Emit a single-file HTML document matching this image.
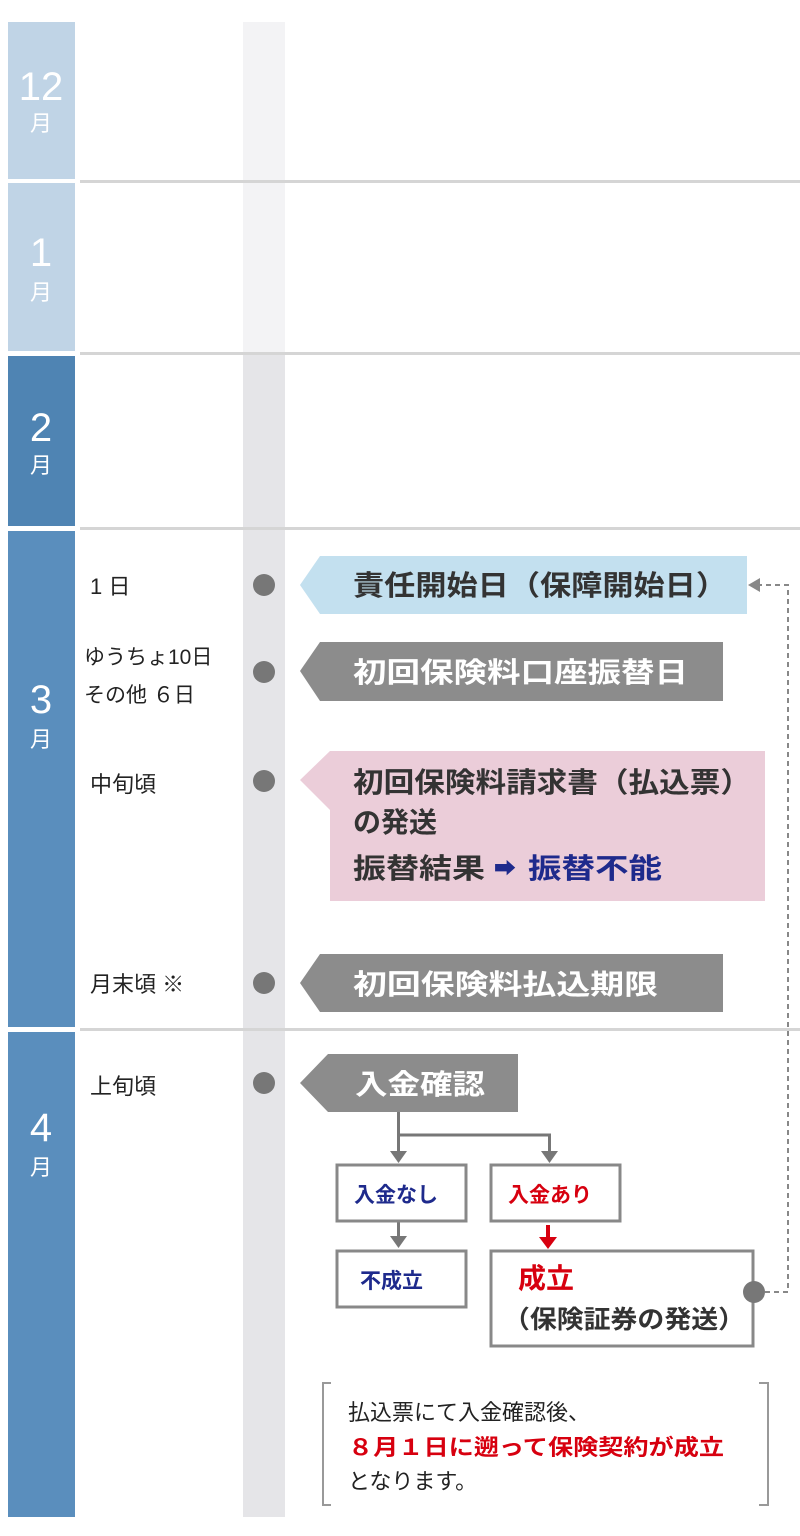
<!DOCTYPE html>
<html><head><meta charset="utf-8"><style>
html,body{margin:0;padding:0;background:#fff}
svg{display:block}
text{font-family:"Liberation Sans","Noto Sans CJK JP",sans-serif}
</style></head><body>
<svg width="800" height="1536" viewBox="0 0 800 1536" xmlns="http://www.w3.org/2000/svg">
<rect x="243" y="22" width="42" height="331" fill="#f3f3f5"/>
<rect x="243" y="353" width="42" height="1164" fill="#e5e5e8"/>
<rect x="8" y="22" width="67" height="157" fill="#c0d4e6"/>
<rect x="8" y="183" width="67" height="168" fill="#c0d4e6"/>
<rect x="8" y="356" width="67" height="170" fill="#4f84b3"/>
<rect x="8" y="531" width="67" height="496" fill="#5a8ebd"/>
<rect x="8" y="1032" width="67" height="485" fill="#5a8ebd"/>
<g fill="#d5d5d5">
<rect x="80" y="180" width="720" height="3"/>
<rect x="80" y="352" width="720" height="3"/>
<rect x="80" y="527" width="720" height="3"/>
<rect x="80" y="1028" width="720" height="3"/>
</g>
<g fill="#fff" text-anchor="middle">
<text x="41" y="100" font-size="40">12</text><text x="41" y="131" font-size="22">月</text>
<text x="41" y="266" font-size="40">1</text><text x="41" y="300" font-size="22">月</text>
<text x="41" y="441" font-size="40">2</text><text x="41" y="473" font-size="22">月</text>
<text x="41" y="713" font-size="40">3</text><text x="41" y="747" font-size="22">月</text>
<text x="41" y="1141" font-size="40">4</text><text x="41" y="1175" font-size="22">月</text>
</g>
<g fill="#222" font-size="22">
<text x="90" y="594">1 日</text>
<text x="84" y="664" font-size="21">ゆうちょ10日</text>
<text x="84" y="702" font-size="21">その他 ６日</text>
<text x="90" y="792">中旬頃</text>
<text x="90" y="992">月末頃 ※</text>
<text x="90" y="1094">上旬頃</text>
</g>
<g fill="#777">
<circle cx="264" cy="585" r="11"/>
<circle cx="264" cy="672" r="11"/>
<circle cx="264" cy="781" r="11"/>
<circle cx="264" cy="983" r="11"/>
<circle cx="264" cy="1083" r="11"/>
</g>
<polygon points="300,585 320,556 747,556 747,614 320,614" fill="#c3e0ef"/>
<polygon points="300,671 320,642 723,642 723,701 320,701" fill="#8c8c8c"/>
<polygon points="300,780 330,751 765,751 765,901 330,901 330,810" fill="#ebcdd9"/>
<polygon points="300,983 320,954 723,954 723,1012 320,1012" fill="#8c8c8c"/>
<polygon points="300,1083 328,1054 518,1054 518,1112 328,1112" fill="#8c8c8c"/>
<g font-size="28" font-weight="bold">
<text x="353" y="595" fill="#333" textLength="374" lengthAdjust="spacingAndGlyphs">責任開始日（保障開始日）</text>
<text x="353" y="682" fill="#fff" textLength="335" lengthAdjust="spacingAndGlyphs">初回保険料口座振替日</text>
<text x="353" y="792" fill="#333" textLength="398" lengthAdjust="spacingAndGlyphs">初回保険料請求書（払込票）</text>
<text x="353" y="832" fill="#333">の発送</text>
<text x="353" y="878" fill="#333" textLength="132" lengthAdjust="spacingAndGlyphs">振替結果</text>
<text x="494" y="876" fill="#1e2a8c" font-size="22">➡</text>
<text x="528" y="878" fill="#1e2a8c" textLength="134" lengthAdjust="spacingAndGlyphs">振替不能</text>
<text x="353" y="994" fill="#fff" textLength="305" lengthAdjust="spacingAndGlyphs">初回保険料払込期限</text>
<text x="355" y="1094" fill="#fff" textLength="130" lengthAdjust="spacingAndGlyphs">入金確認</text>
</g>
<g stroke="#777" stroke-width="3" fill="none">
<path d="M398.5 1112 V1152 M398.5 1135 H549.5 V1152"/>
<path d="M398.5 1222 V1238"/>
</g>
<g fill="#777">
<polygon points="390,1151 407,1151 398.5,1163"/>
<polygon points="541,1151 558,1151 549.5,1163"/>
<polygon points="390,1236 407,1236 398.5,1248"/>
</g>
<path d="M548 1225 V1238" stroke="#d7000f" stroke-width="4"/>
<polygon points="539,1237 557,1237 548,1249" fill="#d7000f"/>
<g fill="#fff" stroke="#888" stroke-width="3">
<rect x="337" y="1165" width="129" height="56"/>
<rect x="491" y="1165" width="129" height="56"/>
<rect x="337" y="1251" width="129" height="56"/>
<rect x="491" y="1251" width="262" height="95"/>
</g>
<g font-size="21" font-weight="bold">
<text x="354" y="1202" fill="#1e2a8c">入金なし</text>
<text x="508" y="1202" fill="#d7000f">入金あり</text>
<text x="360" y="1288" fill="#1e2a8c">不成立</text>
</g>
<text x="518" y="1288" font-size="28" font-weight="bold" fill="#d7000f">成立</text>
<text x="503" y="1328" font-size="25" font-weight="bold" fill="#333" textLength="242" lengthAdjust="spacingAndGlyphs">（保険証券の発送）</text>
<path d="M765 1292 H788 V585 H760" stroke="#888" stroke-width="2" stroke-dasharray="5,4" fill="none"/>
<polygon points="748,585 760,578 760,592" fill="#888"/>
<circle cx="754" cy="1292" r="11" fill="#777"/>
<g stroke="#999" stroke-width="2" fill="none">
<path d="M331 1383 H323 V1505 H331"/>
<path d="M759 1383 H768 V1505 H759"/>
</g>
<g font-size="22">
<text x="348" y="1420" fill="#222">払込票にて入金確認後、</text>
<text x="348" y="1455" fill="#d7000f" font-weight="bold" textLength="376" lengthAdjust="spacingAndGlyphs">８月１日に遡って保険契約が成立</text>
<text x="348" y="1489" fill="#222">となります。</text>
</g>
</svg>
</body></html>
